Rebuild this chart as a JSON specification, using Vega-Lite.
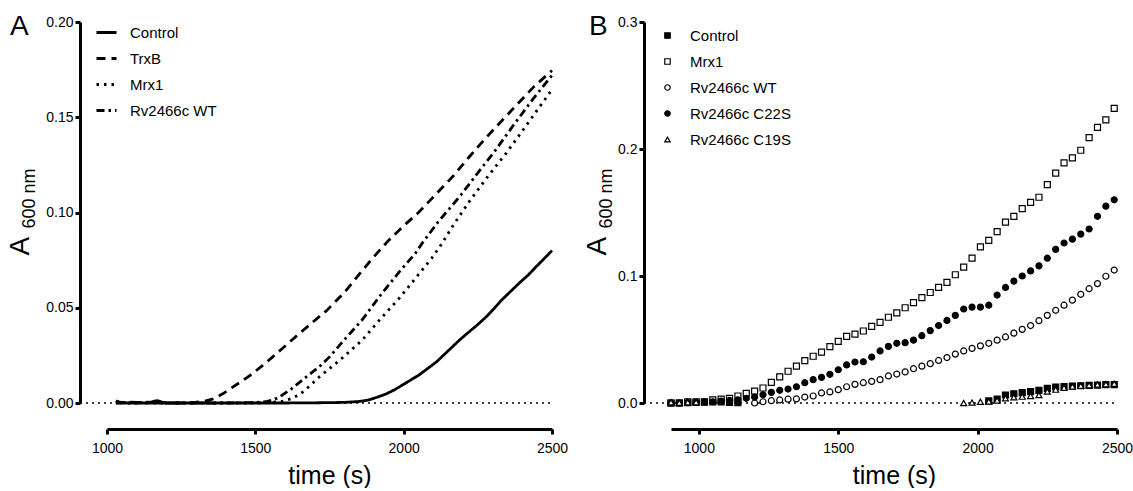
{
  "$schema": "https://vega.github.io/schema/vega-lite/v6.json",
  "background": "white",
  "padding": {"left": 6, "top": 13, "right": 0, "bottom": 0},
  "spacing": 15,
  "resolve": {"legend": {"strokeDash": "independent", "shape": "independent", "fill": "independent", "stroke": "independent"}},
  "config": {
    "font": "Liberation Sans",
    "view": {"stroke": null},
    "axis": {"domainColor": "black", "domainWidth": 3, "tickColor": "black", "tickWidth": 3, "tickSize": 5, "labelColor": "black", "labelFontSize": 14, "labelFont": "Liberation Sans", "titleFont": "Liberation Sans", "titleFontWeight": "normal", "titleColor": "black", "grid": false, "labelPadding": 2, "labelFlush": false, "labelOverlap": false},
    "legend": {"labelFont": "Liberation Sans", "labelFontSize": 15, "labelColor": "black", "padding": 0, "title": null},
    "title": {"font": "Liberation Sans", "fontSize": 28, "fontWeight": "normal", "color": "black"}
  },
  "hconcat": [
    {
      "width": 445,
      "height": 381,
      "title": {"text": "A", "anchor": "start", "frame": "bounds", "baseline": "top", "offset": -26, "dx": 4},
      "resolve": {"axis": {"y": "independent"}},
      "layer": [
        {
          "data": {"values": [{"t": 909, "t2": 2500, "A": 0}]},
          "mark": {"type": "rule", "color": "black", "strokeWidth": 1.5, "strokeDash": [2, 4]},
          "encoding": {
            "x": {"field": "t", "type": "quantitative", "scale": {"domain": [1000, 2500], "nice": false, "zero": false}, "axis": {"title": "time (s)", "values": [1000, 1500, 2000, 2500], "format": "d", "offset": 26, "titleFontSize": 25, "titlePadding": 8, "labelPadding": 7}},
            "x2": {"field": "t2"},
            "y": {"field": "A", "type": "quantitative", "scale": {"domain": [0, 0.2], "nice": false, "zero": false}, "axis": {"title": "A", "values": [0, 0.05, 0.1, 0.15, 0.2], "format": ".2f", "offset": 27, "titleFontSize": 28, "titleX": -52, "titleY": 233, "titleAlign": "left", "titleBaseline": "alphabetic", "titleAngle": -90}}
          }
        },
        {
          "data": {"values": [
            {"s": "Control", "t": 1030, "A": 0}, {"s": "Control", "t": 1100, "A": 0}, {"s": "Control", "t": 1200, "A": 0}, {"s": "Control", "t": 1300, "A": 0}, {"s": "Control", "t": 1400, "A": 0}, {"s": "Control", "t": 1500, "A": 0}, {"s": "Control", "t": 1600, "A": 0}, {"s": "Control", "t": 1700, "A": 0.0001}, {"s": "Control", "t": 1800, "A": 0.0003}, {"s": "Control", "t": 1850, "A": 0.0008}, {"s": "Control", "t": 1880, "A": 0.0015}, {"s": "Control", "t": 1910, "A": 0.003}, {"s": "Control", "t": 1940, "A": 0.0047}, {"s": "Control", "t": 1970, "A": 0.007}, {"s": "Control", "t": 2000, "A": 0.0098}, {"s": "Control", "t": 2025, "A": 0.0122}, {"s": "Control", "t": 2050, "A": 0.0145}, {"s": "Control", "t": 2080, "A": 0.018}, {"s": "Control", "t": 2110, "A": 0.0215}, {"s": "Control", "t": 2135, "A": 0.0252}, {"s": "Control", "t": 2165, "A": 0.0296}, {"s": "Control", "t": 2190, "A": 0.0333}, {"s": "Control", "t": 2220, "A": 0.0373}, {"s": "Control", "t": 2250, "A": 0.0412}, {"s": "Control", "t": 2280, "A": 0.0455}, {"s": "Control", "t": 2305, "A": 0.0496}, {"s": "Control", "t": 2330, "A": 0.054}, {"s": "Control", "t": 2360, "A": 0.0585}, {"s": "Control", "t": 2390, "A": 0.063}, {"s": "Control", "t": 2420, "A": 0.0672}, {"s": "Control", "t": 2445, "A": 0.0713}, {"s": "Control", "t": 2475, "A": 0.076}, {"s": "Control", "t": 2500, "A": 0.08},
            {"s": "TrxB", "t": 1030, "A": 0.0012}, {"s": "TrxB", "t": 1045, "A": 0}, {"s": "TrxB", "t": 1060, "A": 0.0005}, {"s": "TrxB", "t": 1100, "A": 0.0003}, {"s": "TrxB", "t": 1130, "A": 0}, {"s": "TrxB", "t": 1170, "A": 0.001}, {"s": "TrxB", "t": 1200, "A": 0}, {"s": "TrxB", "t": 1250, "A": 0}, {"s": "TrxB", "t": 1300, "A": 0.0004}, {"s": "TrxB", "t": 1330, "A": 0.001}, {"s": "TrxB", "t": 1355, "A": 0.002}, {"s": "TrxB", "t": 1390, "A": 0.0048}, {"s": "TrxB", "t": 1420, "A": 0.0079}, {"s": "TrxB", "t": 1480, "A": 0.0142}, {"s": "TrxB", "t": 1535, "A": 0.021}, {"s": "TrxB", "t": 1590, "A": 0.0285}, {"s": "TrxB", "t": 1645, "A": 0.036}, {"s": "TrxB", "t": 1690, "A": 0.042}, {"s": "TrxB", "t": 1740, "A": 0.0485}, {"s": "TrxB", "t": 1800, "A": 0.058}, {"s": "TrxB", "t": 1850, "A": 0.0675}, {"s": "TrxB", "t": 1895, "A": 0.076}, {"s": "TrxB", "t": 1950, "A": 0.0855}, {"s": "TrxB", "t": 2000, "A": 0.093}, {"s": "TrxB", "t": 2050, "A": 0.1}, {"s": "TrxB", "t": 2110, "A": 0.1098}, {"s": "TrxB", "t": 2165, "A": 0.1188}, {"s": "TrxB", "t": 2220, "A": 0.129}, {"s": "TrxB", "t": 2275, "A": 0.1388}, {"s": "TrxB", "t": 2330, "A": 0.148}, {"s": "TrxB", "t": 2390, "A": 0.158}, {"s": "TrxB", "t": 2440, "A": 0.1662}, {"s": "TrxB", "t": 2500, "A": 0.1745},
            {"s": "Mrx1", "t": 1030, "A": 0}, {"s": "Mrx1", "t": 1100, "A": 0.0004}, {"s": "Mrx1", "t": 1160, "A": 0}, {"s": "Mrx1", "t": 1200, "A": 0}, {"s": "Mrx1", "t": 1300, "A": 0}, {"s": "Mrx1", "t": 1400, "A": 0}, {"s": "Mrx1", "t": 1500, "A": 0}, {"s": "Mrx1", "t": 1550, "A": 0.0003}, {"s": "Mrx1", "t": 1590, "A": 0.0008}, {"s": "Mrx1", "t": 1620, "A": 0.0022}, {"s": "Mrx1", "t": 1650, "A": 0.0045}, {"s": "Mrx1", "t": 1680, "A": 0.0085}, {"s": "Mrx1", "t": 1715, "A": 0.0136}, {"s": "Mrx1", "t": 1790, "A": 0.0232}, {"s": "Mrx1", "t": 1860, "A": 0.033}, {"s": "Mrx1", "t": 1920, "A": 0.0438}, {"s": "Mrx1", "t": 1985, "A": 0.055}, {"s": "Mrx1", "t": 2040, "A": 0.0655}, {"s": "Mrx1", "t": 2095, "A": 0.0761}, {"s": "Mrx1", "t": 2125, "A": 0.0828}, {"s": "Mrx1", "t": 2170, "A": 0.094}, {"s": "Mrx1", "t": 2220, "A": 0.1055}, {"s": "Mrx1", "t": 2280, "A": 0.1182}, {"s": "Mrx1", "t": 2345, "A": 0.131}, {"s": "Mrx1", "t": 2400, "A": 0.1428}, {"s": "Mrx1", "t": 2455, "A": 0.1548}, {"s": "Mrx1", "t": 2500, "A": 0.1645},
            {"s": "Rv2466c WT", "t": 1030, "A": 0.0008}, {"s": "Rv2466c WT", "t": 1060, "A": 0}, {"s": "Rv2466c WT", "t": 1100, "A": 0}, {"s": "Rv2466c WT", "t": 1140, "A": 0.0006}, {"s": "Rv2466c WT", "t": 1170, "A": 0.0012}, {"s": "Rv2466c WT", "t": 1200, "A": 0}, {"s": "Rv2466c WT", "t": 1300, "A": 0}, {"s": "Rv2466c WT", "t": 1400, "A": 0}, {"s": "Rv2466c WT", "t": 1500, "A": 0.0002}, {"s": "Rv2466c WT", "t": 1540, "A": 0.0008}, {"s": "Rv2466c WT", "t": 1560, "A": 0.0016}, {"s": "Rv2466c WT", "t": 1580, "A": 0.003}, {"s": "Rv2466c WT", "t": 1620, "A": 0.0072}, {"s": "Rv2466c WT", "t": 1660, "A": 0.0122}, {"s": "Rv2466c WT", "t": 1715, "A": 0.019}, {"s": "Rv2466c WT", "t": 1750, "A": 0.0242}, {"s": "Rv2466c WT", "t": 1800, "A": 0.0332}, {"s": "Rv2466c WT", "t": 1860, "A": 0.0436}, {"s": "Rv2466c WT", "t": 1920, "A": 0.0562}, {"s": "Rv2466c WT", "t": 1985, "A": 0.0688}, {"s": "Rv2466c WT", "t": 2040, "A": 0.0787}, {"s": "Rv2466c WT", "t": 2062, "A": 0.0838}, {"s": "Rv2466c WT", "t": 2120, "A": 0.0958}, {"s": "Rv2466c WT", "t": 2187, "A": 0.108}, {"s": "Rv2466c WT", "t": 2250, "A": 0.1208}, {"s": "Rv2466c WT", "t": 2311, "A": 0.133}, {"s": "Rv2466c WT", "t": 2370, "A": 0.1458}, {"s": "Rv2466c WT", "t": 2433, "A": 0.159}, {"s": "Rv2466c WT", "t": 2500, "A": 0.172}
          ]},
          "mark": {"type": "line", "color": "black", "strokeWidth": 2.8, "strokeCap": "butt"},
          "encoding": {
            "x": {"field": "t", "type": "quantitative", "scale": {"domain": [1000, 2500], "nice": false, "zero": false}, "axis": {"title": "time (s)", "values": [1000, 1500, 2000, 2500], "format": "d", "offset": 26, "titleFontSize": 25, "titlePadding": 8, "labelPadding": 7}},
            "y": {"field": "A", "type": "quantitative", "scale": {"domain": [0, 0.2], "nice": false, "zero": false}, "axis": {"title": "600 nm", "orient": "left", "domain": false, "ticks": false, "labels": false, "offset": 27, "titleFontSize": 18, "titleX": -46, "titleY": 206, "titleAlign": "left", "titleBaseline": "alphabetic", "titleAngle": -90}},
            "strokeDash": {"field": "s", "type": "nominal", "scale": {"domain": ["Control", "TrxB", "Mrx1", "Rv2466c WT"], "range": [[1, 0], [9, 6], [2.5, 5], [8, 4, 2.5, 4]]}, "legend": {"orient": "none", "legendX": -12, "legendY": -1, "symbolType": "stroke", "symbolSize": 400, "symbolStrokeWidth": 3, "symbolStrokeColor": "black", "labelOffset": 12, "rowPadding": 6}}
          }
        }
      ]
    },
    {
      "width": 446,
      "height": 381,
      "title": {"text": "B", "anchor": "start", "frame": "bounds", "baseline": "top", "offset": -26, "dx": 6},
      "resolve": {"axis": {"y": "independent"}},
      "layer": [
        {
          "data": {"values": [{"t": 803, "t2": 2500, "A": 0}]},
          "mark": {"type": "rule", "color": "black", "strokeWidth": 1.5, "strokeDash": [2, 4]},
          "encoding": {
            "x": {"field": "t", "type": "quantitative", "scale": {"domain": [900, 2500], "nice": false, "zero": false}, "axis": {"title": "time (s)", "values": [1000, 1500, 2000, 2500], "format": "d", "offset": 26, "titleFontSize": 25, "titlePadding": 8, "labelPadding": 7}},
            "x2": {"field": "t2"},
            "y": {"field": "A", "type": "quantitative", "scale": {"domain": [0, 0.3], "nice": false, "zero": false}, "axis": {"title": "A", "values": [0, 0.1, 0.2, 0.3], "format": ".1f", "offset": 27, "titleFontSize": 28, "titleX": -39, "titleY": 233, "titleAlign": "left", "titleBaseline": "alphabetic", "titleAngle": -90}}
          }
        },
        {
          "data": {"values": [
            {"s": "Control", "t": 900, "A": 0}, {"s": "Control", "t": 930, "A": 0}, {"s": "Control", "t": 960, "A": 0.0003}, {"s": "Control", "t": 990, "A": 0.0005}, {"s": "Control", "t": 1020, "A": 0.0006}, {"s": "Control", "t": 1050, "A": 0.0008}, {"s": "Control", "t": 1080, "A": 0.0008}, {"s": "Control", "t": 1110, "A": 0.0005}, {"s": "Control", "t": 1140, "A": 0.0002}, {"s": "Control", "t": 2040, "A": 0.0016}, {"s": "Control", "t": 2070, "A": 0.003}, {"s": "Control", "t": 2100, "A": 0.0063}, {"s": "Control", "t": 2130, "A": 0.0073}, {"s": "Control", "t": 2160, "A": 0.0081}, {"s": "Control", "t": 2190, "A": 0.0089}, {"s": "Control", "t": 2220, "A": 0.01}, {"s": "Control", "t": 2250, "A": 0.0115}, {"s": "Control", "t": 2280, "A": 0.0126}, {"s": "Control", "t": 2310, "A": 0.013}, {"s": "Control", "t": 2340, "A": 0.0134}, {"s": "Control", "t": 2370, "A": 0.0136}, {"s": "Control", "t": 2400, "A": 0.0138}, {"s": "Control", "t": 2430, "A": 0.014}, {"s": "Control", "t": 2460, "A": 0.0144}, {"s": "Control", "t": 2490, "A": 0.0144},
            {"s": "Mrx1", "t": 900, "A": 0}, {"s": "Mrx1", "t": 930, "A": 0}, {"s": "Mrx1", "t": 960, "A": 0.001}, {"s": "Mrx1", "t": 990, "A": 0.001}, {"s": "Mrx1", "t": 1020, "A": 0.001}, {"s": "Mrx1", "t": 1050, "A": 0.0024}, {"s": "Mrx1", "t": 1080, "A": 0.003}, {"s": "Mrx1", "t": 1110, "A": 0.0037}, {"s": "Mrx1", "t": 1140, "A": 0.0055}, {"s": "Mrx1", "t": 1170, "A": 0.0076}, {"s": "Mrx1", "t": 1200, "A": 0.0094}, {"s": "Mrx1", "t": 1230, "A": 0.0118}, {"s": "Mrx1", "t": 1260, "A": 0.0163}, {"s": "Mrx1", "t": 1290, "A": 0.0205}, {"s": "Mrx1", "t": 1320, "A": 0.025}, {"s": "Mrx1", "t": 1350, "A": 0.029}, {"s": "Mrx1", "t": 1380, "A": 0.0333}, {"s": "Mrx1", "t": 1410, "A": 0.0368}, {"s": "Mrx1", "t": 1440, "A": 0.04}, {"s": "Mrx1", "t": 1470, "A": 0.0444}, {"s": "Mrx1", "t": 1500, "A": 0.0486}, {"s": "Mrx1", "t": 1530, "A": 0.0525}, {"s": "Mrx1", "t": 1560, "A": 0.0543}, {"s": "Mrx1", "t": 1590, "A": 0.0567}, {"s": "Mrx1", "t": 1620, "A": 0.0604}, {"s": "Mrx1", "t": 1650, "A": 0.0635}, {"s": "Mrx1", "t": 1680, "A": 0.0675}, {"s": "Mrx1", "t": 1710, "A": 0.071}, {"s": "Mrx1", "t": 1740, "A": 0.075}, {"s": "Mrx1", "t": 1770, "A": 0.079}, {"s": "Mrx1", "t": 1800, "A": 0.083}, {"s": "Mrx1", "t": 1830, "A": 0.087}, {"s": "Mrx1", "t": 1860, "A": 0.091}, {"s": "Mrx1", "t": 1890, "A": 0.095}, {"s": "Mrx1", "t": 1920, "A": 0.101}, {"s": "Mrx1", "t": 1950, "A": 0.107}, {"s": "Mrx1", "t": 1980, "A": 0.114}, {"s": "Mrx1", "t": 2010, "A": 0.123}, {"s": "Mrx1", "t": 2040, "A": 0.128}, {"s": "Mrx1", "t": 2070, "A": 0.135}, {"s": "Mrx1", "t": 2100, "A": 0.1425}, {"s": "Mrx1", "t": 2130, "A": 0.147}, {"s": "Mrx1", "t": 2160, "A": 0.153}, {"s": "Mrx1", "t": 2190, "A": 0.158}, {"s": "Mrx1", "t": 2220, "A": 0.162}, {"s": "Mrx1", "t": 2250, "A": 0.172}, {"s": "Mrx1", "t": 2280, "A": 0.181}, {"s": "Mrx1", "t": 2310, "A": 0.189}, {"s": "Mrx1", "t": 2340, "A": 0.193}, {"s": "Mrx1", "t": 2370, "A": 0.199}, {"s": "Mrx1", "t": 2400, "A": 0.209}, {"s": "Mrx1", "t": 2430, "A": 0.217}, {"s": "Mrx1", "t": 2460, "A": 0.223}, {"s": "Mrx1", "t": 2490, "A": 0.232},
            {"s": "Rv2466c WT", "t": 1200, "A": 0}, {"s": "Rv2466c WT", "t": 1230, "A": 0.001}, {"s": "Rv2466c WT", "t": 1260, "A": 0.0018}, {"s": "Rv2466c WT", "t": 1290, "A": 0.0024}, {"s": "Rv2466c WT", "t": 1320, "A": 0.003}, {"s": "Rv2466c WT", "t": 1350, "A": 0.0032}, {"s": "Rv2466c WT", "t": 1380, "A": 0.0047}, {"s": "Rv2466c WT", "t": 1410, "A": 0.0055}, {"s": "Rv2466c WT", "t": 1440, "A": 0.0079}, {"s": "Rv2466c WT", "t": 1470, "A": 0.0087}, {"s": "Rv2466c WT", "t": 1500, "A": 0.0105}, {"s": "Rv2466c WT", "t": 1530, "A": 0.0128}, {"s": "Rv2466c WT", "t": 1560, "A": 0.0147}, {"s": "Rv2466c WT", "t": 1590, "A": 0.016}, {"s": "Rv2466c WT", "t": 1620, "A": 0.017}, {"s": "Rv2466c WT", "t": 1650, "A": 0.0184}, {"s": "Rv2466c WT", "t": 1680, "A": 0.0213}, {"s": "Rv2466c WT", "t": 1710, "A": 0.0228}, {"s": "Rv2466c WT", "t": 1740, "A": 0.0245}, {"s": "Rv2466c WT", "t": 1770, "A": 0.027}, {"s": "Rv2466c WT", "t": 1800, "A": 0.029}, {"s": "Rv2466c WT", "t": 1830, "A": 0.031}, {"s": "Rv2466c WT", "t": 1860, "A": 0.0335}, {"s": "Rv2466c WT", "t": 1890, "A": 0.0358}, {"s": "Rv2466c WT", "t": 1920, "A": 0.0385}, {"s": "Rv2466c WT", "t": 1950, "A": 0.041}, {"s": "Rv2466c WT", "t": 1980, "A": 0.043}, {"s": "Rv2466c WT", "t": 2010, "A": 0.045}, {"s": "Rv2466c WT", "t": 2040, "A": 0.047}, {"s": "Rv2466c WT", "t": 2070, "A": 0.0495}, {"s": "Rv2466c WT", "t": 2100, "A": 0.052}, {"s": "Rv2466c WT", "t": 2130, "A": 0.055}, {"s": "Rv2466c WT", "t": 2160, "A": 0.058}, {"s": "Rv2466c WT", "t": 2190, "A": 0.061}, {"s": "Rv2466c WT", "t": 2220, "A": 0.0648}, {"s": "Rv2466c WT", "t": 2250, "A": 0.069}, {"s": "Rv2466c WT", "t": 2280, "A": 0.073}, {"s": "Rv2466c WT", "t": 2310, "A": 0.077}, {"s": "Rv2466c WT", "t": 2340, "A": 0.081}, {"s": "Rv2466c WT", "t": 2370, "A": 0.0856}, {"s": "Rv2466c WT", "t": 2400, "A": 0.09}, {"s": "Rv2466c WT", "t": 2430, "A": 0.094}, {"s": "Rv2466c WT", "t": 2460, "A": 0.0998}, {"s": "Rv2466c WT", "t": 2490, "A": 0.1047},
            {"s": "Rv2466c C22S", "t": 900, "A": 0}, {"s": "Rv2466c C22S", "t": 930, "A": 0}, {"s": "Rv2466c C22S", "t": 960, "A": 0.0005}, {"s": "Rv2466c C22S", "t": 990, "A": 0.0005}, {"s": "Rv2466c C22S", "t": 1020, "A": 0.001}, {"s": "Rv2466c C22S", "t": 1050, "A": 0.001}, {"s": "Rv2466c C22S", "t": 1080, "A": 0.0015}, {"s": "Rv2466c C22S", "t": 1110, "A": 0.002}, {"s": "Rv2466c C22S", "t": 1140, "A": 0.0025}, {"s": "Rv2466c C22S", "t": 1170, "A": 0.0037}, {"s": "Rv2466c C22S", "t": 1200, "A": 0.0047}, {"s": "Rv2466c C22S", "t": 1230, "A": 0.0065}, {"s": "Rv2466c C22S", "t": 1260, "A": 0.0084}, {"s": "Rv2466c C22S", "t": 1290, "A": 0.01}, {"s": "Rv2466c C22S", "t": 1320, "A": 0.011}, {"s": "Rv2466c C22S", "t": 1350, "A": 0.0128}, {"s": "Rv2466c C22S", "t": 1380, "A": 0.016}, {"s": "Rv2466c C22S", "t": 1410, "A": 0.0184}, {"s": "Rv2466c C22S", "t": 1440, "A": 0.0202}, {"s": "Rv2466c C22S", "t": 1470, "A": 0.0226}, {"s": "Rv2466c C22S", "t": 1500, "A": 0.0262}, {"s": "Rv2466c C22S", "t": 1530, "A": 0.03}, {"s": "Rv2466c C22S", "t": 1560, "A": 0.0323}, {"s": "Rv2466c C22S", "t": 1590, "A": 0.0325}, {"s": "Rv2466c C22S", "t": 1620, "A": 0.0362}, {"s": "Rv2466c C22S", "t": 1650, "A": 0.041}, {"s": "Rv2466c C22S", "t": 1680, "A": 0.0446}, {"s": "Rv2466c C22S", "t": 1710, "A": 0.047}, {"s": "Rv2466c C22S", "t": 1740, "A": 0.0475}, {"s": "Rv2466c C22S", "t": 1770, "A": 0.0495}, {"s": "Rv2466c C22S", "t": 1800, "A": 0.053}, {"s": "Rv2466c C22S", "t": 1830, "A": 0.057}, {"s": "Rv2466c C22S", "t": 1860, "A": 0.061}, {"s": "Rv2466c C22S", "t": 1890, "A": 0.065}, {"s": "Rv2466c C22S", "t": 1920, "A": 0.069}, {"s": "Rv2466c C22S", "t": 1950, "A": 0.074}, {"s": "Rv2466c C22S", "t": 1980, "A": 0.0755}, {"s": "Rv2466c C22S", "t": 2010, "A": 0.0755}, {"s": "Rv2466c C22S", "t": 2040, "A": 0.077}, {"s": "Rv2466c C22S", "t": 2070, "A": 0.085}, {"s": "Rv2466c C22S", "t": 2100, "A": 0.091}, {"s": "Rv2466c C22S", "t": 2130, "A": 0.096}, {"s": "Rv2466c C22S", "t": 2160, "A": 0.1}, {"s": "Rv2466c C22S", "t": 2190, "A": 0.104}, {"s": "Rv2466c C22S", "t": 2220, "A": 0.108}, {"s": "Rv2466c C22S", "t": 2250, "A": 0.114}, {"s": "Rv2466c C22S", "t": 2280, "A": 0.121}, {"s": "Rv2466c C22S", "t": 2310, "A": 0.126}, {"s": "Rv2466c C22S", "t": 2340, "A": 0.129}, {"s": "Rv2466c C22S", "t": 2370, "A": 0.133}, {"s": "Rv2466c C22S", "t": 2400, "A": 0.137}, {"s": "Rv2466c C22S", "t": 2430, "A": 0.147}, {"s": "Rv2466c C22S", "t": 2460, "A": 0.155}, {"s": "Rv2466c C22S", "t": 2490, "A": 0.16},
            {"s": "Rv2466c C19S", "t": 900, "A": 0.0005}, {"s": "Rv2466c C19S", "t": 930, "A": 0.0002}, {"s": "Rv2466c C19S", "t": 960, "A": 0.0005}, {"s": "Rv2466c C19S", "t": 990, "A": 0.0006}, {"s": "Rv2466c C19S", "t": 1950, "A": 0}, {"s": "Rv2466c C19S", "t": 1980, "A": 0.0003}, {"s": "Rv2466c C19S", "t": 2010, "A": 0.001}, {"s": "Rv2466c C19S", "t": 2040, "A": 0.0012}, {"s": "Rv2466c C19S", "t": 2070, "A": 0.002}, {"s": "Rv2466c C19S", "t": 2100, "A": 0.0037}, {"s": "Rv2466c C19S", "t": 2130, "A": 0.0045}, {"s": "Rv2466c C19S", "t": 2160, "A": 0.005}, {"s": "Rv2466c C19S", "t": 2190, "A": 0.0055}, {"s": "Rv2466c C19S", "t": 2220, "A": 0.0062}, {"s": "Rv2466c C19S", "t": 2250, "A": 0.009}, {"s": "Rv2466c C19S", "t": 2280, "A": 0.0105}, {"s": "Rv2466c C19S", "t": 2310, "A": 0.012}, {"s": "Rv2466c C19S", "t": 2340, "A": 0.013}, {"s": "Rv2466c C19S", "t": 2370, "A": 0.0135}, {"s": "Rv2466c C19S", "t": 2400, "A": 0.014}, {"s": "Rv2466c C19S", "t": 2430, "A": 0.0145}, {"s": "Rv2466c C19S", "t": 2460, "A": 0.0148}, {"s": "Rv2466c C19S", "t": 2490, "A": 0.0152}
          ]},
          "mark": {"type": "point", "filled": true, "size": 36, "opacity": 1, "strokeWidth": 1.2},
          "encoding": {
            "x": {"field": "t", "type": "quantitative", "scale": {"domain": [900, 2500], "nice": false, "zero": false}, "axis": {"title": "time (s)", "values": [1000, 1500, 2000, 2500], "format": "d", "offset": 26, "titleFontSize": 25, "titlePadding": 8, "labelPadding": 7}},
            "y": {"field": "A", "type": "quantitative", "scale": {"domain": [0, 0.3], "nice": false, "zero": false}, "axis": {"title": "600 nm", "orient": "left", "domain": false, "ticks": false, "labels": false, "offset": 27, "titleFontSize": 18, "titleX": -33, "titleY": 206, "titleAlign": "left", "titleBaseline": "alphabetic", "titleAngle": -90}},
            "stroke": {"field": "s", "type": "nominal", "scale": {"domain": ["Control", "Mrx1", "Rv2466c WT", "Rv2466c C22S", "Rv2466c C19S"], "range": ["black", "black", "black", "black", "black"]}, "legend": {"orient": "none", "legendX": -11, "legendY": 6, "symbolSize": 30, "symbolStrokeWidth": 1.2, "labelOffset": 15, "rowPadding": 10}},
            "shape": {"field": "s", "type": "nominal", "scale": {"domain": ["Control", "Mrx1", "Rv2466c WT", "Rv2466c C22S", "Rv2466c C19S"], "range": ["square", "square", "circle", "circle", "triangle-up"]}, "legend": {"orient": "none", "legendX": -11, "legendY": 6, "symbolSize": 30, "symbolStrokeWidth": 1.2, "labelOffset": 15, "rowPadding": 10}},
            "fill": {"field": "s", "type": "nominal", "scale": {"domain": ["Control", "Mrx1", "Rv2466c WT", "Rv2466c C22S", "Rv2466c C19S"], "range": ["black", "white", "white", "black", "white"]}, "legend": {"orient": "none", "legendX": -11, "legendY": 6, "symbolSize": 30, "symbolStrokeWidth": 1.2, "labelOffset": 15, "rowPadding": 10}}
          }
        }
      ]
    }
  ]
}
